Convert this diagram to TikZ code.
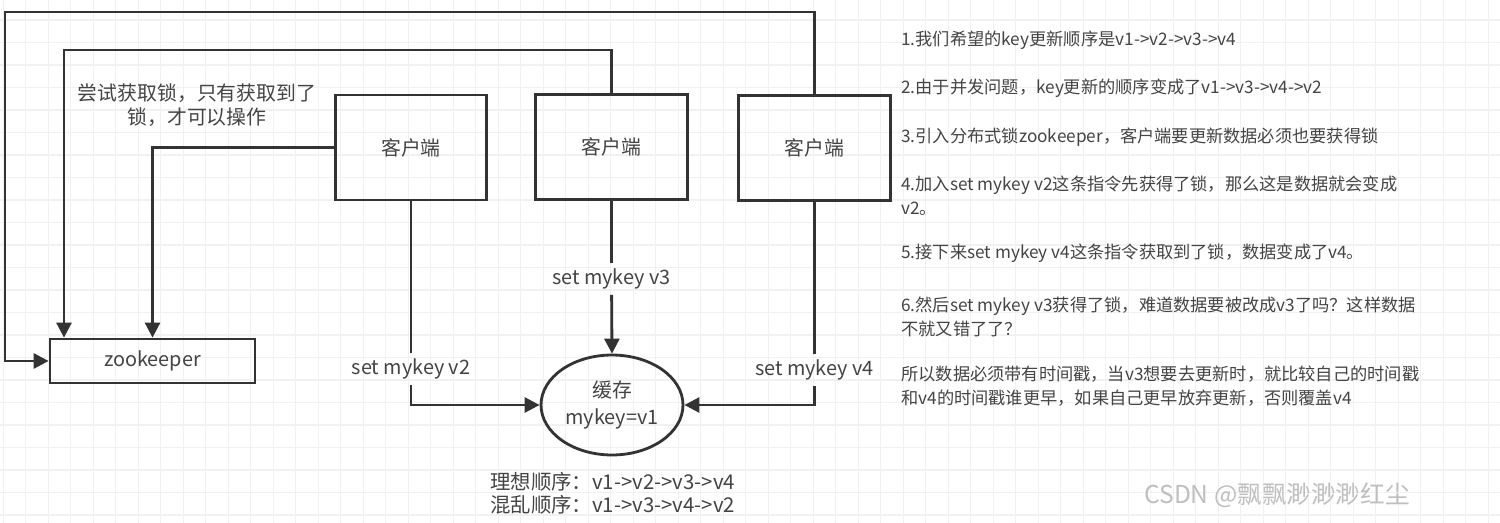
\documentclass[tikz,border=0pt]{standalone}
\usepackage{fontspec}
\setmainfont{Noto Sans CJK SC}
\usetikzlibrary{arrows.meta,shapes.geometric}
\definecolor{linecol}{HTML}{333333}
\definecolor{txtcol}{HTML}{444444}
\definecolor{gridcol}{HTML}{F1F1F1}

\begin{document}
\begin{tikzpicture}[x=0.02cm,y=-0.02cm,
	line/.style={draw=linecol, line width=1.6pt},
	arr/.style={line, -{Triangle[length=8.5pt,width=8.5pt]}},
	client/.style={line, rectangle, minimum width=3.03cm, minimum height=2.1cm, text=txtcol, font=\fontsize{11.3}{13}\selectfont},
	cmd/.style={text=txtcol, font=\fontsize{11.3}{13}\selectfont, inner sep=3pt},
	note/.style={anchor=west, align=left, text=txtcol, font=\fontsize{9.8}{13.6}\selectfont, inner sep=0pt}]
	\useasboundingbox (0,0) rectangle (1500,523);
	\fill[white] (0,0) rectangle (1500,523);
	% faint grid of the canvas
	\foreach \gx in {3.3,25.8,...,1500} \draw[gridcol, line width=0.6pt] (\gx,0) -- (\gx,523);
	\foreach \gy in {20,42.5,...,523} \draw[gridcol, line width=0.6pt] (0,\gy) -- (1500,\gy);

	% clients, lock service and cache
	\node[client] (c1) at (411,147.5) {客户端};
	\node[client] (c2) at (611.5,147) {客户端};
	\node[client] (c3) at (814.5,148) {客户端};
	\node[line, rectangle, minimum width=4.1cm, minimum height=0.88cm, text=txtcol, font=\fontsize{11.3}{13}\selectfont] (zk) at (152.5,361) {zookeeper};
	\node[line, ellipse, minimum width=2.84cm, minimum height=2cm, inner sep=0pt, align=center, text=txtcol, font=\fontsize{11.3}{15.3}\selectfont] (cache) at (612,405) {缓存\\mykey=v1};

	% every client asks zookeeper for the lock
	\coordinate (outer) at (5,12);
	\coordinate (inner) at (64,50);
	\draw[arr] (c3.north) |- (outer) |- (zk.west);
	\draw[arr] (c2.north) |- (inner) -- (inner |- zk.north);
	\draw[arr] (c1.west) -| (zk.north);
	\node[cmd, align=center, font=\fontsize{11.3}{13.6}\selectfont] (tip) at (197,105) {尝试获取锁，只有获取到了\\锁，才可以操作};

	% writes to the cache
	\node[cmd] (l2) at (411,369) {set mykey v2};
	\node[cmd] (l3) at (611.5,279) {set mykey v3};
	\node[cmd] (l4) at (814.5,370) {set mykey v4};
	\draw[line] (c1.south) -- (l2);
	\draw[arr] (l2) |- (cache.west);
	\draw[line] (c2.south) -- (l3);
	\draw[arr] (l3) -- (cache.north);
	\draw[line] (c3.south) -- (l4);
	\draw[arr] (l4) |- (cache.east);

	\node[note, font=\fontsize{11.6}{13}\selectfont] (order) at (490,493.5) {理想顺序：v1->v2->v3->v4\\混乱顺序：v1->v3->v4->v2};

	% explanation on the right
	\node[note] (n1) at (901,40) {1.我们希望的key更新顺序是v1->v2->v3->v4};
	\node[note] (n2) at (901,88) {2.由于并发问题，key更新的顺序变成了v1->v3->v4->v2};
	\node[note] (n3) at (901,137) {3.引入分布式锁zookeeper，客户端要更新数据必须也要获得锁};
	\node[note] (n4) at (901,195.5) {4.加入set mykey v2这条指令先获得了锁，那么这是数据就会变成\\v2。};
	\node[note] (n5) at (901,253) {5.接下来set mykey v4这条指令获取到了锁，数据变成了v4。};
	\node[note] (n6) at (901,316.5) {6.然后set mykey v3获得了锁，难道数据要被改成v3了吗？这样数据\\不就又错了了？};
	\node[note] (n7) at (901,386.5) {所以数据必须带有时间戳，当v3想要去更新时，就比较自己的时间戳\\和v4的时间戳谁更早，如果自己更早放弃更新，否则覆盖v4};

	\node[anchor=east, text=gray!50, font=\fontsize{14}{16}\selectfont, inner sep=0pt] (mark) at (1410,495) {CSDN @飘飘渺渺渺红尘};
\end{tikzpicture}
\end{document}
